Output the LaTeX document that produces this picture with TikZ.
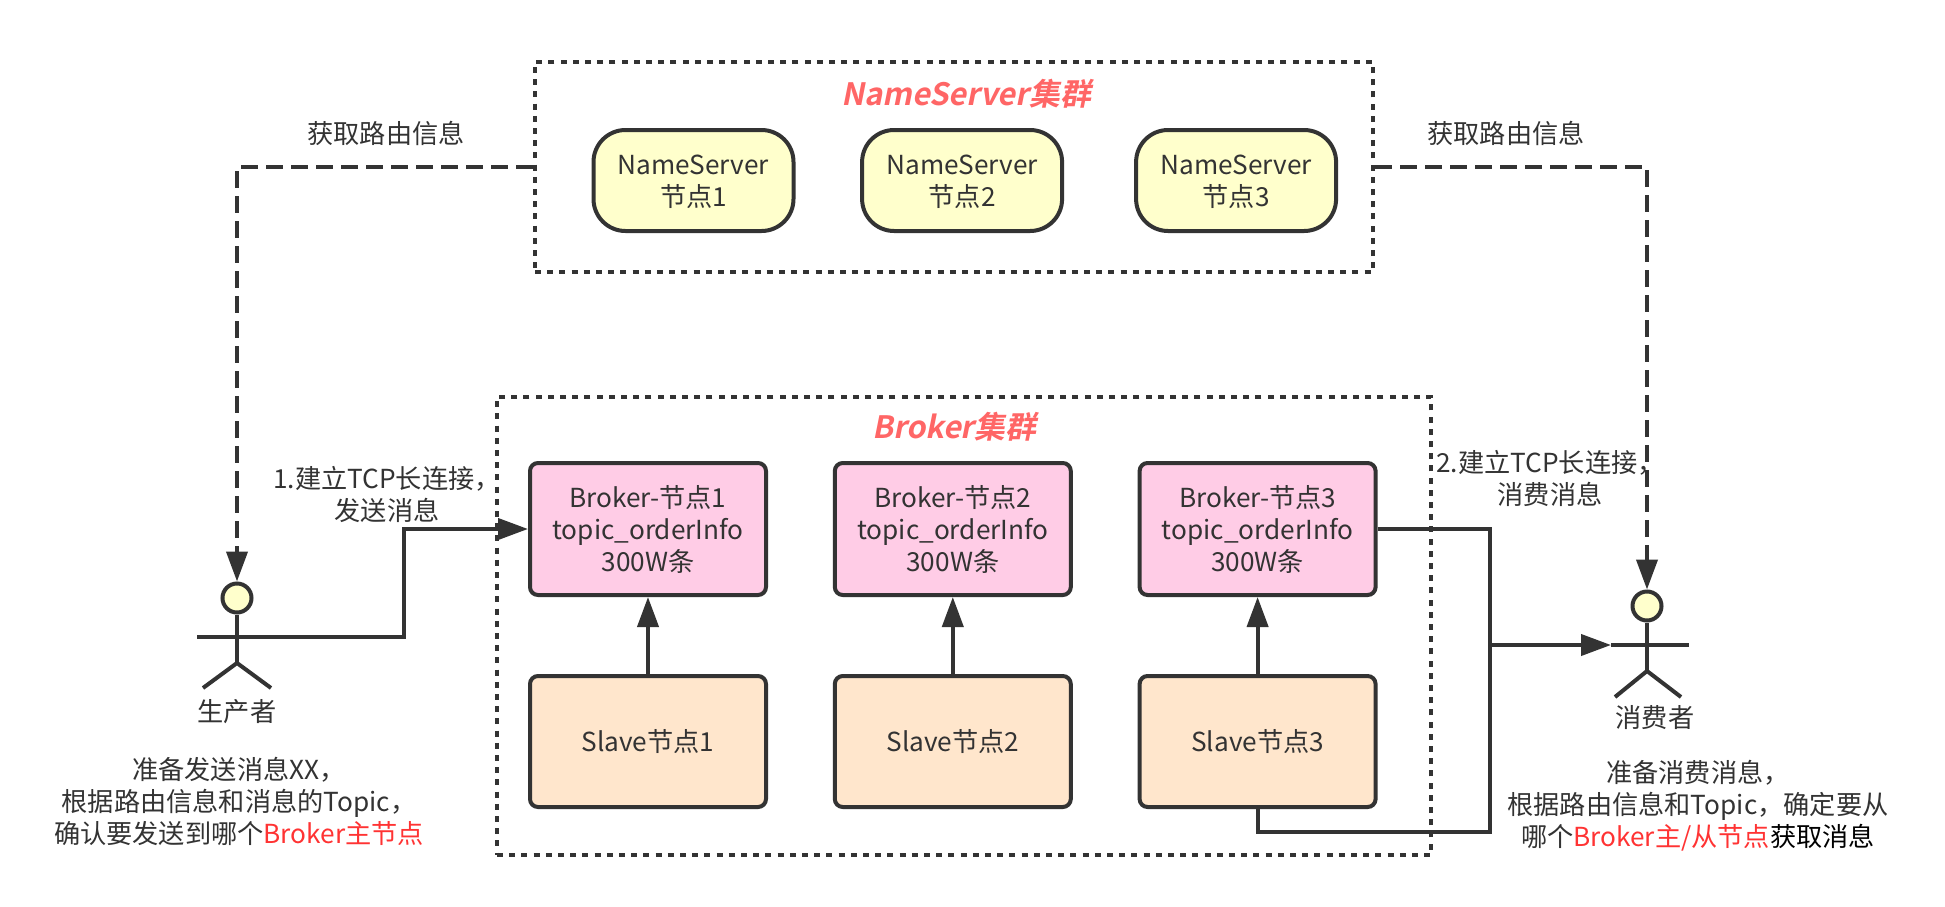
\documentclass[tikz,border=0pt]{standalone}
\usepackage{fontspec}
\setmainfont{Noto Sans CJK SC}
\newfontfamily\titlefont[FakeSlant=0.2]{Noto Sans CJK SC Bold}
\definecolor{lineDark}{RGB}{51,51,51}
\definecolor{nameYellow}{RGB}{255,255,204}
\definecolor{brokerPink}{RGB}{255,204,230}
\definecolor{slavePeach}{RGB}{255,230,204}
\definecolor{titleRed}{RGB}{255,102,102}
\definecolor{alertRed}{RGB}{255,51,51}
\usetikzlibrary{arrows.meta, positioning}

\begin{document}
\begin{tikzpicture}[
    x=0.5pt, y=-0.5pt,
    every node/.style={font=\fontsize{13.1}{16}\selectfont, text=lineDark, align=center},
    group/.style={draw=lineDark, line width=2.3pt, dash pattern=on 3pt off 3.1pt, minimum width=0},
    namebox/.style={draw=lineDark, line width=2pt, fill=nameYellow, rounded corners=16pt,
                    minimum width=100pt, minimum height=50.5pt, inner sep=0pt, text depth=0pt},
    brokerbox/.style={draw=lineDark, line width=2pt, fill=brokerPink, rounded corners=4pt,
                      minimum width=118pt, minimum height=66pt, inner sep=0pt},
    slavebox/.style={brokerbox, fill=slavePeach, minimum height=65.5pt},
    head/.style={circle, draw=lineDark, line width=2pt, fill=nameYellow, minimum size=14.5pt, inner sep=0pt},
    title/.style={font=\titlefont\fontsize{15.4}{16}\selectfont, text=titleRed},
    solidline/.style={draw=lineDark, line width=2pt},
    solidarrow/.style={solidline, -{Triangle[length=15pt,width=10.5pt]}},
    dasharrow/.style={solidarrow, dash pattern=on 8.5pt off 4pt}
  ]
    \useasboundingbox (0,0) rectangle (1945,906);
    \fill[white] (0,0) rectangle (1945,906);

    \node[group, minimum width=419pt, minimum height=105pt] (nsgroup) at (954,167) {};
    \node[group, minimum width=467pt, minimum height=229pt] (bkgroup) at (964,626) {};

    \node[title] (nstitle) at (966,94) {NameServer集群};
    \node[title] (bktitle) at (954,427) {Broker集群};

    \node[namebox] (n1) at (693.5,180.5) {NameServer\\节点1};
    \node[namebox, right=32.3pt of n1] (n2) {NameServer\\节点2};
    \node[namebox, right=35pt of n2] (n3) {NameServer\\节点3};

    \node[brokerbox] (b1) at (648,529) {Broker-节点1\\topic\_orderInfo\\300W条};
    \node[brokerbox, right=32.4pt of b1] (b2) {Broker-节点2\\topic\_orderInfo\\300W条};
    \node[brokerbox, right=32.4pt of b2] (b3) {Broker-节点3\\topic\_orderInfo\\300W条};
    \node[slavebox, below=38.5pt of b1] (s1) {Slave节点1};
    \node[slavebox, below=38.5pt of b2] (s2) {Slave节点2};
    \node[slavebox, below=38.5pt of b3] (s3) {Slave节点3};

    \node[head] (phead) at (237,598) {};
    \coordinate (pneck) at (237,637);
    \coordinate (phip) at (237,663);
    \coordinate (pleft) at (197,637);
    \coordinate (pbend) at (404,637);
    \draw[solidline] (phead) -- (phip);
    \draw[solidline] (203,688) -- (phip) -- (271,688);
    \draw[solidline] (pleft) -- (pneck);
    \draw[solidarrow] (pneck) -- (pbend) |- (b1.west);
    \node (plabel) at (237,712) {生产者};

    \node[head] (chead) at (1647,606) {};
    \coordinate (cneck) at (1647,645);
    \coordinate (chip) at (1647,671);
    \coordinate (cright) at (1689,645);
    \coordinate (chand) at (1611,645);
    \coordinate (jtop) at (1490,645);
    \coordinate (jbot) at (1490,832);
    \draw[solidline] (chead) -- (chip);
    \draw[solidline] (1615,697) -- (chip) -- (1681,697);
    \draw[solidline] (chand) -- (cright);
    \node (clabel) at (1655,718) {消费者};

    \draw[dasharrow] (nsgroup.west) -| (phead.north);
    \draw[dasharrow] (nsgroup.east) -| (chead.north);
    \draw[solidarrow] (s1.north) -- (b1.south);
    \draw[solidarrow] (s2.north) -- (b2.south);
    \draw[solidarrow] (s3.north) -- (b3.south);
    \draw[solidline] (b3.east) -| (jbot) -| (s3.south);
    \draw[solidarrow] (jtop) -- (chand);

    \node (t1) at (386,133) {获取路由信息};
    \node (t2) at (1506,133) {获取路由信息};
    \node (t3) at (387,494) {1.建立TCP长连接，\\发送消息};
    \node (t4) at (1550,478) {2.建立TCP长连接，\\消费消息};
    \node (t5) at (239,801) {准备发送消息XX，\\根据路由信息和消息的Topic，\\确认要发送到哪个{\color{alertRed}Broker主节点}};
    \node (t6) at (1698,806) {准备消费消息，\\根据路由信息和Topic，确定要从\\哪个{\color{alertRed}Broker主/从节点}{\color{black}获取消息}};
  \end{tikzpicture}
\end{document}
